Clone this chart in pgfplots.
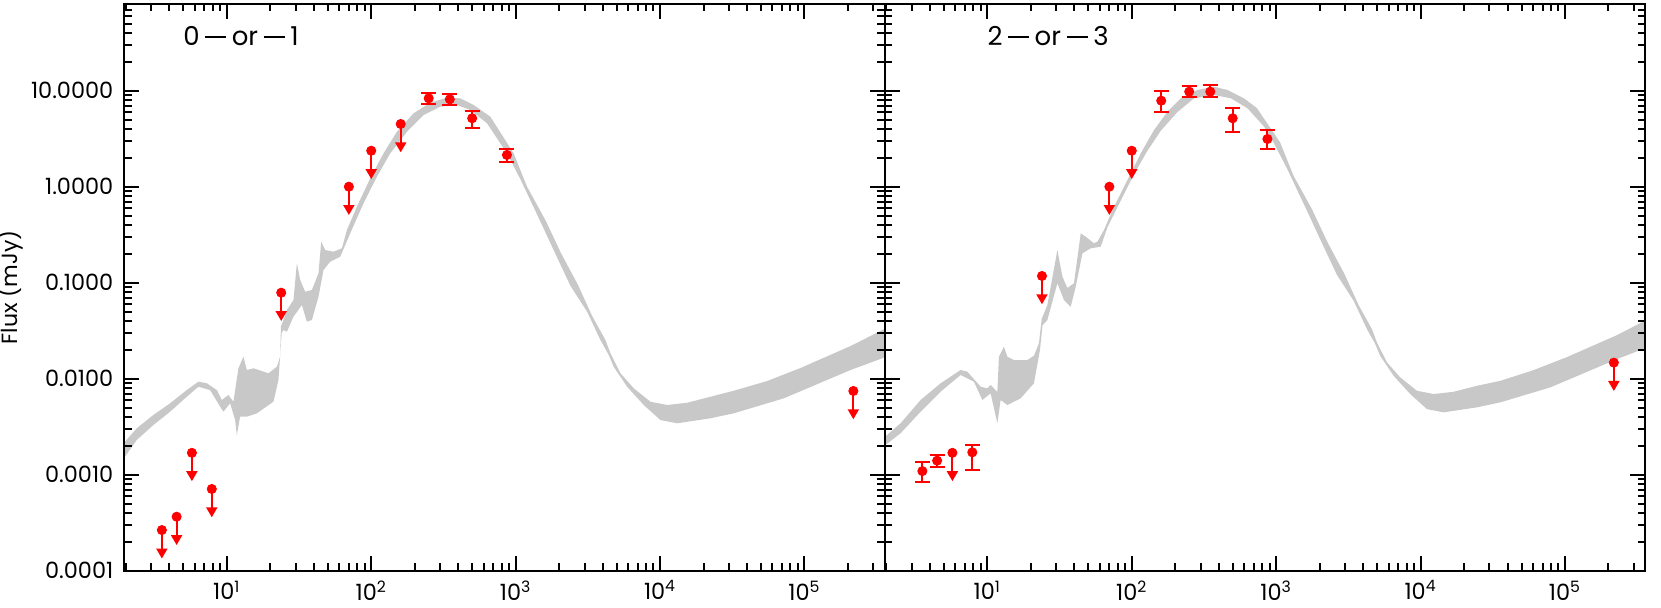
\documentclass[border=0pt]{standalone}
\usepackage{pgfplots}
\pgfplotsset{compat=1.18}
\usepackage{fontspec}
\setmainfont{Poppins}
\usetikzlibrary{arrows.meta}

\definecolor{bandgray}{RGB}{200,200,200}
\definecolor{ptred}{RGB}{255,0,0}
\newcommand{\dash}{\hspace{2.8bp}\rule[3.8bp]{10.5bp}{1bp}\hspace{2.8bp}}

% settings shared by both panels
\pgfplotsset{
  scale only axis, width=380.25bp, height=283.35bp,
  xmin=1.95, xmax=3.6e5, ymin=1e-4, ymax=80,
  axis on top,
  xtick={10,100,1000,10000,100000},
  xticklabels={10\textsuperscript{1},10\textsuperscript{2},10\textsuperscript{3},10\textsuperscript{4},10\textsuperscript{5}},
  minor xtick={2,3,4,5,6,7,8,9,20,30,40,50,60,70,80,90,200,300,400,500,600,700,800,900,2000,3000,4000,5000,6000,7000,8000,9000,20000,30000,40000,50000,60000,70000,80000,90000,200000,300000},
  ytick={1e-4,1e-3,1e-2,1e-1,1,10},
  minor ytick={2e-4,3e-4,4e-4,5e-4,6e-4,7e-4,8e-4,9e-4,2e-3,3e-3,4e-3,5e-3,6e-3,7e-3,8e-3,9e-3,0.02,0.03,0.04,0.05,0.06,0.07,0.08,0.09,0.2,0.3,0.4,0.5,0.6,0.7,0.8,0.9,2,3,4,5,6,7,8,9,20,30,40,50,60,70},
  tick align=inside, xtick pos=both, ytick pos=both,
  major tick length=7.5bp, minor tick length=3.75bp,
  every tick/.style={black, line width=1bp},
  axis line style={black, line width=1.1bp},
  tick label style={font=\fontsize{11.2bp}{13bp}\selectfont},
  xticklabel style={yshift=-1.5bp},
  yticklabel style={xshift=-2bp},
}

\begin{document}
\begin{tikzpicture}
% ---------------- left panel: 0-or-1
\begin{loglogaxis}[name=a1, yticklabels={0.0001,0.0010,0.0100,0.1000,1.0000,10.0000}]
% model band (upper edge left to right, lower edge back)
\addplot[fill=bandgray, draw=none] coordinates {
  (1.9,2.1e-3) (1.973,2.21e-3) (2.378,3.043e-3) (3.099,4.19e-3) (4.046,5.54e-3)
  (5.283,7.62e-3) (6.357,9.31e-3) (7.269,8.96e-3) (8.527,7.62e-3) (9.234,6.0e-3)
  (10.26,6.76e-3) (11.11,5.76e-3) (12.03,0.01283) (13.03,0.01695) (13.76,0.01232)
  (15.29,0.01283) (19.43,0.01138) (22.21,0.01334)
  (23.41,0.01695) (23.7,0.035) (24.67,0.04088) (26.05,0.05195) (28.94,0.06603)
  (30.56,0.1593) (32.21,0.1067) (34.88,0.08058) (38.82,0.08395) (43.14,0.1253)
  (45.04,0.2674) (48.0,0.2191) (54.79,0.2103) (62.66,0.2282) (67.87,0.3540)
  (79.60,0.6190) (98.42,1.223) (121.7,2.228) (150.7,3.740) (196.5,5.815)
  (256.4,7.499) (334.6,8.455) (413.9,8.333) (511.7,7.096) (667.9,5.360)
  (968.5,2.228) (1199,1.0) (1606,0.45) (2064,0.2024) (2700,0.095)
  (3384,0.045) (4184,0.0253) (4532,0.0184) (5316,0.0114) (6574,7.94e-3)
  (8580,5.76e-3) (11200,5.32e-3) (15410,5.62e-3) (22350,6.49e-3) (32430,7.5e-3)
  (55240,9.462e-3) (93970,0.01293) (208700,0.02191) (380000,0.0345)
  (380000,0.0172) (208700,0.01232) (72000,6.249e-3) (32430,4.361e-3) (22350,3.87e-3)
  (13140,3.43e-3) (10060,3.71e-3) (7709,5.32e-3) (5916,8.25e-3) (4777,0.0133)
  (4411,0.0177) (3864,0.0253) (3125,0.0499) (2394,0.093) (1884,0.20)
  (1467,0.45) (1078,1.2) (871,2.228) (633.8,4.575) (485.6,6.295)
  (392.6,7.096) (300.8,6.813) (230.3,5.583)
  (176.8,3.740) (135.4,2.228) (109.5,1.271) (88.45,0.6716) (71.54,0.3270)
  (60.98,0.1866) (51.98,0.1655) (46.71,0.1356) (43.14,0.07145) (38.82,0.04088)
  (35.84,0.03925) (33.10,0.05857) (28.94,0.04423) (26.05,0.03088) (24.67,0.03216)
  (24.0,0.030) (22.78,9.694e-3) (21.03,5.760e-3) (16.14,4.36e-3) (13.76,4.02e-3)
  (12.36,4.02e-3) (11.73,2.59e-3) (11.42,3.71e-3) (10.54,5.54e-3) (9.47,4.53e-3)
  (8.99,5.11e-3) (7.66,7.62e-3) (6.357,8.25e-3) (5.283,6.49e-3) (4.046,4.53e-3)
  (3.099,3.29e-3) (2.378,2.30e-3) (1.973,1.54e-3) (1.9,1.45e-3)
};
% upper limits
\addplot[ptred, line width=1bp, -{Triangle[width=5.5bp,length=5bp]}] coordinates {(3.55,2.65e-4) (3.55,1.34e-4)};
\addplot[ptred, line width=1bp, -{Triangle[width=5.5bp,length=5bp]}] coordinates {(4.49,3.65e-4) (4.49,1.85e-4)};
\addplot[ptred, line width=1bp, -{Triangle[width=5.5bp,length=5bp]}] coordinates {(5.73,1.69e-3) (5.73,8.57e-4)};
\addplot[ptred, line width=1bp, -{Triangle[width=5.5bp,length=5bp]}] coordinates {(7.87,7.1e-4) (7.87,3.6e-4)};
\addplot[ptred, line width=1bp, -{Triangle[width=5.5bp,length=5bp]}] coordinates {(23.8,0.0787) (23.8,0.0399)};
\addplot[ptred, line width=1bp, -{Triangle[width=5.5bp,length=5bp]}] coordinates {(70,1.0) (70,0.507)};
\addplot[ptred, line width=1bp, -{Triangle[width=5.5bp,length=5bp]}] coordinates {(100,2.37) (100,1.20)};
\addplot[ptred, line width=1bp, -{Triangle[width=5.5bp,length=5bp]}] coordinates {(160,4.5) (160,2.28)};
\addplot[ptred, line width=1bp, -{Triangle[width=5.5bp,length=5bp]}] coordinates {(2.18e5,7.45e-3) (2.18e5,3.78e-3)};
\addplot[only marks, mark=*, mark size=2.3bp, ptred, mark options={ptred}] coordinates {
  (3.55,2.65e-4) (4.49,3.65e-4) (5.73,1.69e-3) (7.87,7.1e-4) (23.8,0.0787)
  (70,1.0) (100,2.37) (160,4.5) (2.18e5,7.45e-3)
};
% detections
\addplot[only marks, mark=*, mark size=2.3bp, ptred, mark options={ptred},
  error bars/y dir=both, error bars/y explicit,
  error bars/error bar style={line width=1bp, ptred},
  error bars/error mark options={rotate=90, ptred, mark size=3.75bp, line width=1bp}]
  coordinates {
  (250,8.33) += (0,1.07) -= (0,1.13)
  (350,8.13) += (0,1.04) -= (0,1.03)
  (500,5.16) += (0,1.03) -= (0,1.04)
  (870,2.14) += (0,0.35) -= (0,0.32)
};
\node[anchor=base west, inner sep=0pt, font=\fontsize{13bp}{15bp}\selectfont] at (rel axis cs:0.077,0.926) {0\dash or\dash 1};
\end{loglogaxis}
\node[rotate=90, font=\fontsize{11bp}{13bp}\selectfont] at ([xshift=-57.3bp]a1.west) {Flux (mJy)};

% ---------------- right panel: 2-or-3
\begin{loglogaxis}[name=a2, at={(a1.south east)}, anchor=south west, yticklabels={}]
\addplot[fill=bandgray, draw=none] coordinates {
  (1.9,2.394e-3) (2.507,3.431e-3) (3.450,6.0e-3) (4.747,8.955e-3) (6.531,0.01232)
  (7.269,0.01183) (8.988,8.254e-3) (10.0,7.943e-3) (10.54,8.598e-3) (11.73,7.27e-3)
  (12.03,0.01695) (13.03,0.02154) (13.76,0.01695) (15.29,0.01566) (18.93,0.01566)
  (21.03,0.01736) (22.78,0.02337) (23.8,0.042) (26.05,0.05857) (30.56,0.2191)
  (33.10,0.1155) (35.84,0.0881) (39.82,0.09857) (44.33,0.3270) (48.0,0.3013)
  (54.79,0.2573) (57.85,0.2674) (64.27,0.3540) (75.40,0.6190) (93.38,1.174)
  (115.5,2.228) (142.7,3.896) (176.8,6.042) (218.6,8.333) (285.3,10.17)
  (371.7,11.01) (460.5,10.17) (600.2,8.3) (734.7,6.6) (1065,2.896)
  (1319,1.3) (1767,0.585) (2270,0.263) (2970,0.1235) (3722,0.0585)
  (4602,0.0329) (4985,0.0239) (5848,0.01482) (7231,0.01032) (9438,7.49e-3)
  (12320,6.92e-3) (16950,7.31e-3) (24590,8.44e-3) (35670,9.5e-3) (60760,0.0123)
  (103400,0.01681) (229600,0.02848) (396800,0.04355)
  (396800,0.02204) (229600,0.01602) (79200,8.12e-3) (35670,5.67e-3) (24590,5.03e-3)
  (14450,4.46e-3) (11070,4.82e-3) (8480,6.92e-3) (6508,0.01073) (5255,0.01729)
  (4852,0.0230) (4250,0.0329) (3438,0.0649) (2633,0.121) (2072,0.26)
  (1614,0.585) (1186,1.56) (958,2.896) (825.7,4.217)
  (633.8,6.556) (485.6,8.333) (371.7,9.020) (270.2,8.333) (207.4,6.0)
  (158.9,3.83) (128.5,2.37) (103.7,1.356) (83.90,0.714) (67.87,0.3775)
  (60.98,0.2371) (51.98,0.2282) (45.54,0.2024) (40.93,0.09085) (37.78,0.05623)
  (33.95,0.06603) (30.56,0.09857) (26.05,0.04088) (24.1,0.036) (23.15,0.01991)
  (21.03,8.955e-3) (17.01,6.249e-3) (13.76,5.32e-3) (12.36,6.0e-3) (11.73,3.431e-3)
  (10.54,7.046e-3) (9.234,6.0e-3) (8.074,9.306e-3) (6.531,0.01093) (4.747,7.322e-3)
  (3.450,4.530e-3) (2.507,2.699e-3) (1.9,1.957e-3)
};
\addplot[ptred, line width=1bp, -{Triangle[width=5.5bp,length=5bp]}] coordinates {(5.73,1.69e-3) (5.73,8.57e-4)};
\addplot[ptred, line width=1bp, -{Triangle[width=5.5bp,length=5bp]}] coordinates {(23.9,0.1175) (23.9,0.0596)};
\addplot[ptred, line width=1bp, -{Triangle[width=5.5bp,length=5bp]}] coordinates {(70,1.0) (70,0.507)};
\addplot[ptred, line width=1bp, -{Triangle[width=5.5bp,length=5bp]}] coordinates {(100,2.37) (100,1.20)};
\addplot[ptred, line width=1bp, -{Triangle[width=5.5bp,length=5bp]}] coordinates {(2.18e5,0.0147) (2.18e5,7.45e-3)};
\addplot[only marks, mark=*, mark size=2.3bp, ptred, mark options={ptred}] coordinates {
  (5.73,1.69e-3) (23.9,0.1175) (70,1.0) (100,2.37) (2.18e5,0.0147)
};
\addplot[only marks, mark=*, mark size=2.3bp, ptred, mark options={ptred},
  error bars/y dir=both, error bars/y explicit,
  error bars/error bar style={line width=1bp, ptred},
  error bars/error mark options={rotate=90, ptred, mark size=3.75bp, line width=1bp}]
  coordinates {
  (3.55,1.09e-3) += (0,2.6e-4) -= (0,2.5e-4)
  (4.49,1.40e-3) += (0,1.9e-4) -= (0,1.9e-4)
  (7.87,1.71e-3) += (0,3.4e-4) -= (0,6.0e-4)
  (160,7.87) += (0,2.06) -= (0,1.91)
  (250,9.77) += (0,1.43) -= (0,1.11)
  (350,9.77) += (0,1.73) -= (0,1.27)
  (500,5.16) += (0,1.49) -= (0,1.47)
  (870,3.14) += (0,0.76) -= (0,0.69)
};
\node[anchor=base west, inner sep=0pt, font=\fontsize{13bp}{15bp}\selectfont] at (rel axis cs:0.1346,0.926) {2\dash or\dash 3};
\end{loglogaxis}

\pgfresetboundingbox
\path[use as bounding box] ([shift={(-62.15bp,-18.65bp)}]a1.south west) rectangle ++(830.5bp,304bp);
\end{tikzpicture}
\end{document}
